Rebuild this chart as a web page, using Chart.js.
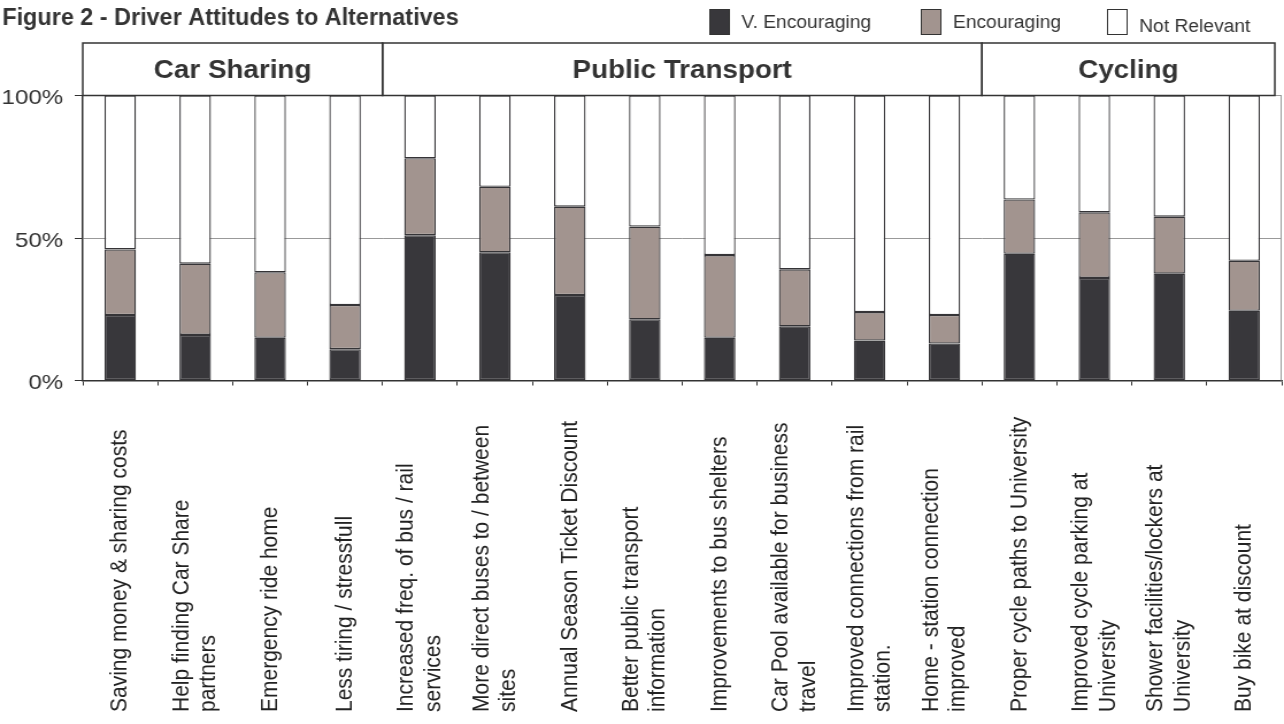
<!DOCTYPE html>
<html>
<head>
<meta charset="utf-8">
<script src="https://cdn.jsdelivr.net/npm/chart.js@4/dist/chart.umd.min.js"></script>
<style>
  html, body { margin: 0; padding: 0; background: #fff; overflow: hidden; }
  /* the original figure is stretched sideways, so draw narrow and widen it */
  #wrap { position: absolute; left: 0; top: 0; width: 1117px; height: 724px;
          transform: scaleX(1.1495); transform-origin: 0 0; }
</style>
</head>
<body>
<div id="wrap"><canvas id="chart"></canvas></div>
<script>
// data
const title = 'Figure 2 - Driver Attitudes to Alternatives';
const categories = [
  ['Saving money & sharing costs'],
  ['Help finding Car Share', 'partners'],
  ['Emergency ride home'],
  ['Less tiring / stressfull'],
  ['Increased freq. of bus / rail', 'services'],
  ['More direct buses to / between', 'sites'],
  ['Annual Season Ticket Discount'],
  ['Better public transport', 'information'],
  ['Improvements to bus shelters'],
  ['Car Pool available for business', 'travel'],
  ['Improved connections from rail', 'station.'],
  ['Home - station connection', 'improved'],
  ['Proper cycle paths to University'],
  ['Improved cycle parking at', 'University'],
  ['Shower facilities/lockers at', 'University'],
  ['Buy bike at discount']
];
const groupNames = ['Car Sharing', 'Public Transport', 'Cycling'];
const groupSizes = [4, 8, 4];
const vEncouraging = [23, 16, 15, 11, 51, 45, 30, 21.5, 15, 19, 14, 13, 44.5, 36, 37.5, 24.5];
const encouraging  = [23, 25, 23, 15.5, 27, 23, 31, 32.5, 29, 20, 10, 10, 19, 23, 20, 17.5];
const notRelevant  = [54, 59, 62, 73.5, 22, 32, 39, 46, 56, 61, 76, 77, 36.5, 41, 42.5, 58];
const yTicks = [0, 50, 100];

const FONT = '"Liberation Sans", Arial, sans-serif';
const INK = '#333333';

// text squeezed sideways by sx (horizontal texts in the figure are taller than they are wide)
function squeezedText(ctx, text, x, y, sx, align) {
  ctx.save();
  ctx.translate(x, y);
  ctx.scale(sx, 1);
  ctx.textAlign = align;
  ctx.fillText(text, 0, 0);
  ctx.restore();
}

// title, legend, group header boxes and rotated category labels
const decor = {
  id: 'decor',
  beforeDatasetsDraw(chart) {
    const { ctx, chartArea: a } = chart;
    ctx.save();
    ctx.strokeStyle = '#9a9a9a';
    ctx.lineWidth = 1;
    ctx.beginPath();
    ctx.moveTo(a.right - 0.5, a.top);
    ctx.lineTo(a.right - 0.5, a.bottom);
    ctx.stroke();
    ctx.restore();
  },
  afterDraw(chart) {
    const { ctx, chartArea: a } = chart;
    const xs = chart.scales.x;
    const half = (xs.getPixelForValue(1) - xs.getPixelForValue(0)) / 2;
    const edge = i => xs.getPixelForValue(i) - half;
    ctx.save();

    // title
    ctx.fillStyle = INK;
    ctx.font = 'bold 23px ' + FONT;
    ctx.textBaseline = 'alphabetic';
    squeezedText(ctx, title, 2, 25, 0.885, 'left');

    // legend
    const legendX = [617, 801, 963];
    chart.data.datasets.forEach((ds, i) => {
      ctx.fillStyle = ds.backgroundColor;
      ctx.fillRect(legendX[i], 9, 18, 26);
      ctx.strokeStyle = INK;
      ctx.lineWidth = 1;
      ctx.strokeRect(legendX[i] + 0.5, 9.5, 17, 25);
      ctx.fillStyle = INK;
      ctx.font = '18px ' + FONT;
      ctx.textBaseline = 'middle';
      squeezedText(ctx, ds.label, legendX[i] + 28, i === 2 ? 27 : 23.5, 0.93, 'left');
    });

    // group header boxes
    const top = 43;
    let start = 0;
    ctx.strokeStyle = INK;
    ctx.lineWidth = 1.5;
    groupNames.forEach((name, g) => {
      const x0 = edge(start);
      let x1 = edge(start + groupSizes[g]);
      if (g === groupNames.length - 1) x1 = a.right - 6;
      ctx.strokeRect(x0, top, x1 - x0, a.top - top);
      ctx.fillStyle = INK;
      ctx.font = 'bold 26px ' + FONT;
      ctx.textBaseline = 'middle';
      squeezedText(ctx, name, (x0 + x1) / 2, (top + a.top) / 2 + 2, 0.93, 'center');
      start += groupSizes[g];
    });

    // category labels, rotated, starting from the bottom
    ctx.fillStyle = '#222';
    ctx.font = '21px ' + FONT;
    ctx.textAlign = 'left';
    ctx.textBaseline = 'middle';
    categories.forEach((lines, i) => {
      ctx.save();
      ctx.translate(xs.getPixelForValue(i), 712);
      ctx.rotate(-Math.PI / 2);
      lines.forEach((ln, j) => ctx.fillText(ln, 0, (j - (lines.length - 1) / 2) * 23.5));
      ctx.restore();
    });
    ctx.restore();
  }
};

const barStyle = { borderColor: '#353437', borderWidth: 1.3, borderSkipped: false };

new Chart(document.getElementById('chart'), {
  type: 'bar',
  data: {
    labels: categories,
    datasets: [
      { label: 'V. Encouraging', data: vEncouraging, backgroundColor: '#38373b', ...barStyle },
      { label: 'Encouraging', data: encouraging, backgroundColor: '#a2948f', ...barStyle },
      { label: 'Not Relevant', data: notRelevant, backgroundColor: '#ffffff', ...barStyle }
    ]
  },
  options: {
    responsive: true,
    maintainAspectRatio: false,
    animation: false,
    barPercentage: 0.42,
    categoryPercentage: 1,
    layout: { padding: { top: 95.5, left: 0, right: 2, bottom: 0 } },
    plugins: { legend: { display: false }, tooltip: { enabled: false } },
    scales: {
      x: {
        stacked: true,
        offset: true,
        ticks: { display: false },
        grid: { display: true, offset: true, drawOnChartArea: false, drawTicks: true,
                tickLength: 5, tickColor: INK },
        border: { display: true, color: INK, width: 1.5 },
        afterFit: s => { s.height = 724 - 380.5; }
      },
      y: {
        stacked: true,
        min: 0,
        max: 100,
        afterBuildTicks: s => { s.ticks = yTicks.map(v => ({ value: v })); },
        ticks: { callback: v => v + '%', font: { size: 21, family: FONT }, color: INK,
                 padding: 10, labelOffset: 3 },
        grid: { color: '#999', tickColor: INK, tickLength: 7 },
        border: { color: INK, width: 1.5 },
        afterFit: s => { s.width = 72; }
      }
    }
  },
  plugins: [decor]
});
</script>
</body>
</html>
